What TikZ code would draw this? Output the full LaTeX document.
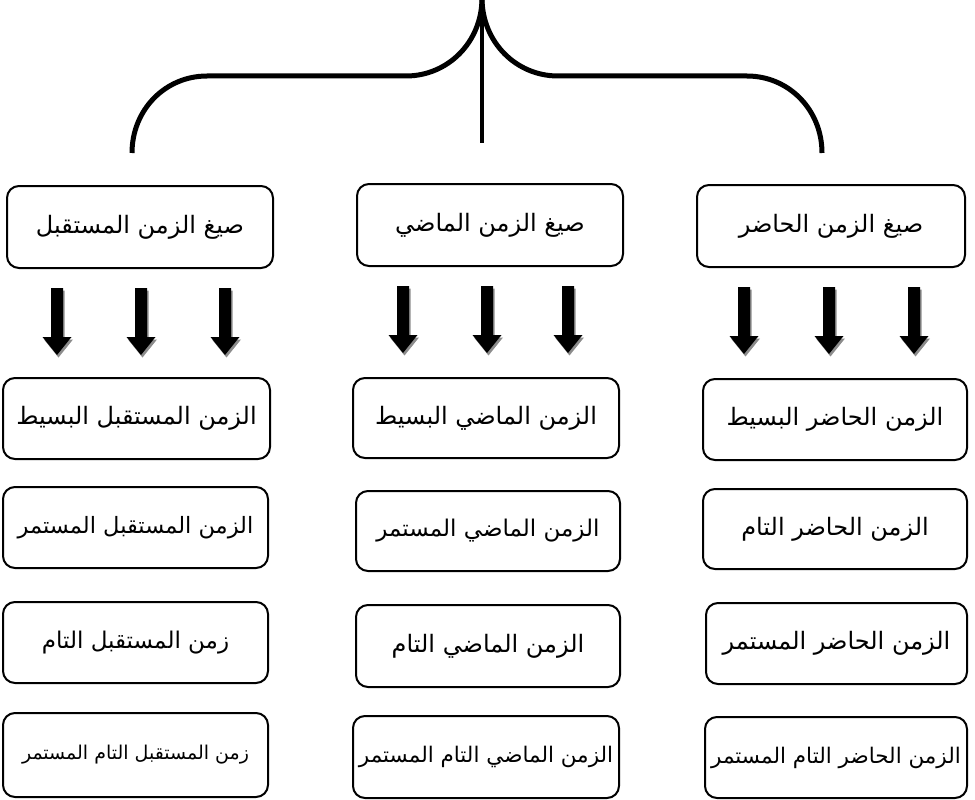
\documentclass[tikz,border=0pt]{standalone}
\usepackage{fontspec}
\newfontfamily\arabicfont[Script=Arabic]{DejaVu Sans}
\TeXXeTstate=1
\tikzset{
  tbox/.style={draw, line width=2pt, rounded corners=12pt, inner sep=2pt,
    minimum width=265pt, minimum height=81pt, font=\arabicfont\fontsize{24}{28}\selectfont},
  fs/.style={font=\arabicfont\fontsize{#1}{#1}\selectfont},
  brace/.style={line width=5pt},
  pics/blockarrow/.style={code={
    \fill[black!45] (-6+1.5,2.5) -- (6+1.5,2.5) -- (6+1.5,51.5) -- (14.5+1.5,51.5) -- (0+1.5,69.5) -- (-14.5+1.5,51.5) -- (-6+1.5,51.5) -- cycle;
    \fill[black] (-6,0) -- (6,0) -- (6,49) -- (14.5,49) -- (0,67) -- (-14.5,49) -- (-6,49) -- cycle;
  }}
}
\newcommand{\ar}[1]{\beginR #1\endR}
\begin{document}
\begin{tikzpicture}[x=1pt,y=-1pt]
\useasboundingbox (0,0) rectangle (975,800);
% header boxes
\node[tbox, minimum width=266pt, minimum height=82pt] (F0) at (140,227) {\ar{صيغ الزمن المستقبل}};
\node[tbox, minimum width=266pt, minimum height=82pt] (P0) at (490,225) {\ar{صيغ الزمن الماضي}};
\node[tbox, minimum width=268pt, minimum height=82pt] (N0) at (831,226) {\ar{صيغ الزمن الحاضر}};
% future column
\node[tbox, minimum width=267pt] (F1) at (136.5,418.5) {\ar{الزمن المستقبل البسيط}};
\node[tbox, fs=22.5] (F2) at (135.5,527.5) {\ar{الزمن المستقبل المستمر}};
\node[tbox, fs=23] (F3) at (135.5,642.5) {\ar{زمن المستقبل التام}};
\node[tbox, fs=19, minimum height=84pt] (F4) at (135.5,755) {\ar{زمن المستقبل التام المستمر}};
% past column
\node[tbox, minimum width=266pt, minimum height=80pt] (P1) at (486,418) {\ar{الزمن الماضي البسيط}};
\node[tbox, fs=23, minimum width=264pt, minimum height=80pt] (P2) at (488,531) {\ar{الزمن الماضي المستمر}};
\node[tbox, minimum width=264pt, minimum height=82pt] (P3) at (488,646) {\ar{الزمن الماضي التام}};
\node[tbox, fs=21.5, minimum width=266pt, minimum height=82pt] (P4) at (486,757) {\ar{الزمن الماضي التام المستمر}};
% present column
\node[tbox, minimum width=264pt] (N1) at (835,419.5) {\ar{الزمن الحاضر البسيط}};
\node[tbox, minimum width=264pt, minimum height=80pt] (N2) at (835,529) {\ar{الزمن الحاضر التام}};
\node[tbox, minimum width=261pt] (N3) at (836.5,643.5) {\ar{الزمن الحاضر المستمر}};
\node[tbox, fs=21.5, minimum width=262pt] (N4) at (836,757.5) {\ar{الزمن الحاضر التام المستمر}};
% block arrows
\foreach \x in {57,141,225} {\pic at (\x,288) {blockarrow};}
\foreach \x in {403,487,568} {\pic at (\x,286) {blockarrow};}
\foreach \x in {744,829,914} {\pic at (\x,287) {blockarrow};}
% brace
\coordinate (tip) at (482,-2);
\coordinate (bl) at (132,153);
\coordinate (br) at (822,153);
\coordinate (bm) at (482,143);
\draw[brace] (bl) .. controls (132,110) and (165,76) .. (207,76) -- (406,76)
   .. controls (448,76) and (482,42) .. (tip);
\draw[brace] (tip) .. controls (482,42) and (516,76) .. (558,76) -- (747,76)
   .. controls (789,76) and (822,110) .. (br);
\draw[line width=4pt] (tip) -- (bm);
\end{tikzpicture}
\end{document}
